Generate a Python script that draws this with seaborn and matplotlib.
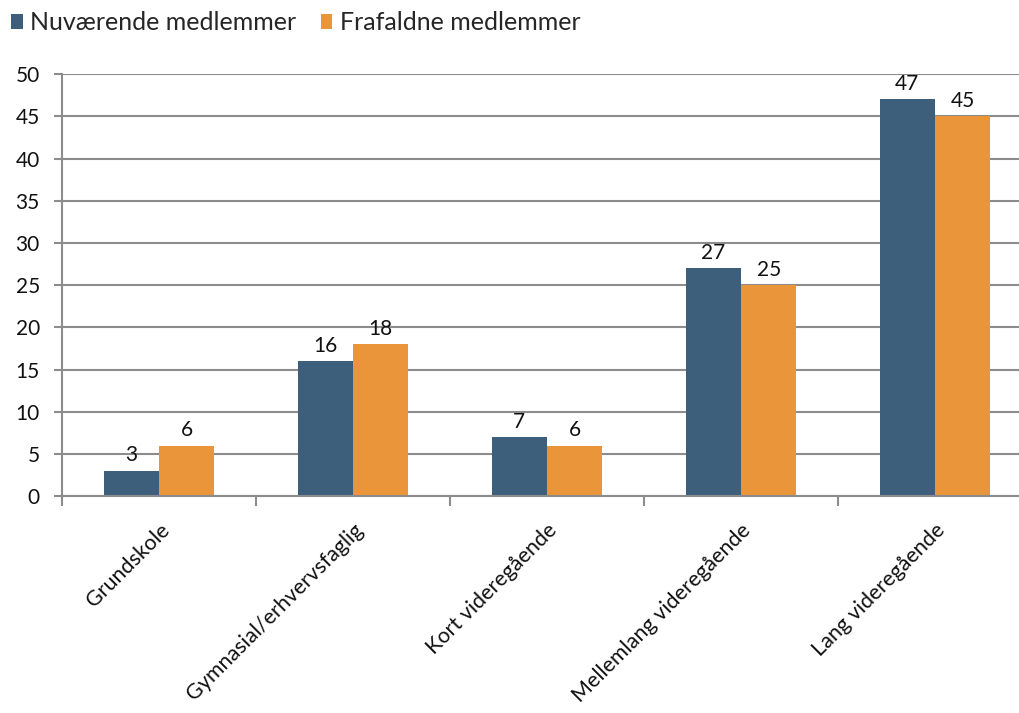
import matplotlib
matplotlib.use("Agg")
import matplotlib.pyplot as plt
import seaborn as sns
import pandas as pd
import numpy as np
from matplotlib.patches import Patch

categories = ["Grundskole", "Gymnasial/erhvervsfaglig", "Kort videregående",
              "Mellemlang videregående", "Lang videregående"]
series_names = ["Nuværende medlemmer", "Frafaldne medlemmer"]
nuvaerende = [3, 16, 7, 27, 47]
frafaldne = [6, 18, 6, 25, 45]
yticks = [0, 5, 10, 15, 20, 25, 30, 35, 40, 45, 50]
colors = ["#3E5F7C", "#EA953A"]

df = pd.DataFrame({
    "Kategori": categories * 2,
    "Serie": [series_names[0]] * 5 + [series_names[1]] * 5,
    "Værdi": nuvaerende + frafaldne,
})

sns.set_theme(style="white")
plt.rcParams['font.family'] = ['Lato', 'DejaVu Sans']

fig = plt.figure(figsize=(10.2, 7.13), dpi=100)
ax = fig.add_axes([0.0608, 0.304, 1 - 0.0608, 0.896 - 0.304])

sns.barplot(data=df, x="Kategori", y="Værdi", hue="Serie", palette=colors,
            width=0.57, saturation=1, ax=ax, legend=False, errorbar=None,
            linewidth=0, edgecolor="none")

for c in ax.containers:
    ax.bar_label(c, labels=[f"{v:.0f}" for v in c.datavalues], padding=4,
                 fontsize=15, color="#111111")

ax.set_yticks(yticks)
ax.set_yticklabels([str(t) for t in yticks], fontsize=15, color="#111111")
ax.set_xlabel("")
ax.set_ylabel("")

ax.grid(axis="y", color="#8c8c8c", linewidth=1.5)
ax.set_axisbelow(True)
for s in ["top", "right"]:
    ax.spines[s].set_visible(False)
for s in ["left", "bottom"]:
    ax.spines[s].set_color("#8c8c8c")
    ax.spines[s].set_linewidth(1.5)

ax.tick_params(axis="y", which="major", length=6, width=1.5, color="#8c8c8c", pad=10, left=True)
ax.set_xticks(range(len(categories)))
ax.set_xticklabels(categories, rotation=45, ha="right", rotation_mode="anchor",
                   fontsize=15.5, color="#111111")
ax.tick_params(axis="x", which="major", length=0, pad=17)
ax.set_xticks(np.arange(-0.5, 4.0, 1.0), minor=True)
ax.tick_params(axis="x", which="minor", length=7, width=1.5, color="#8c8c8c", bottom=True)

ax.set_ylim(0, 50)
ax.set_xlim(-0.5, -0.5 + (1020 - 62) / 194)

handles = [Patch(facecolor=colors[i], edgecolor="none", label=series_names[i]) for i in range(2)]
fig.legend(handles=handles, loc="upper left", bbox_to_anchor=(0.0, 1.0), ncol=2,
           frameon=False, fontsize=18, handlelength=0.45, handleheight=0.55,
           handletextpad=0.3, columnspacing=1.0, borderaxespad=0.15, borderpad=0.3)

fig.savefig("out.png", dpi=100)
